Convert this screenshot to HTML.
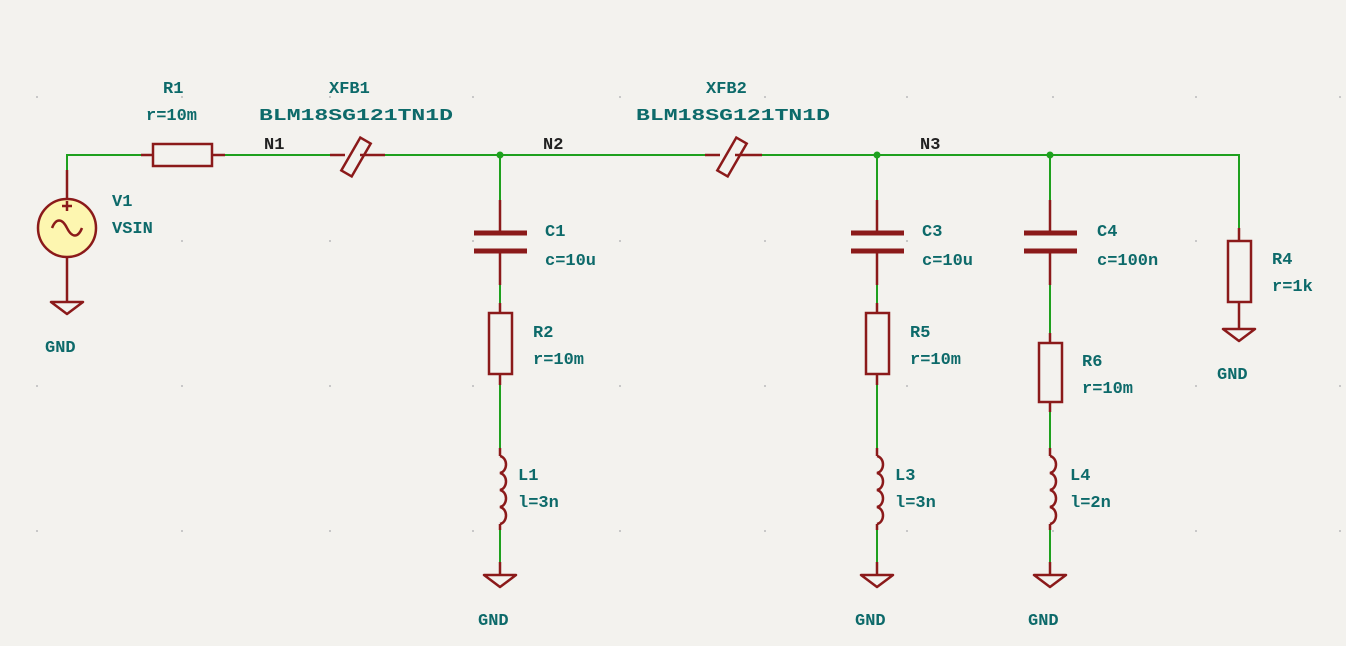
<!DOCTYPE html>
<html><head><meta charset="utf-8"><style>
html,body{margin:0;padding:0;background:#f3f2ee;}
svg{display:block}
text{font-family:"Liberation Mono","DejaVu Sans Mono",monospace;font-size:17px;font-weight:bold;fill:#0d6a6a;}
.n{fill:#222}
.w{stroke:#1ea01e;stroke-width:2;fill:none}
.r{stroke:#8b1a1a;stroke-width:2.5;fill:none}
.p{stroke:#8b1a1a;stroke-width:5;fill:none}
</style></head><body>
<svg width="1346" height="646" viewBox="0 0 1346 646" xmlns="http://www.w3.org/2000/svg">
<defs>
<g id="gnd"><polygon points="-16,0 16,0 0,12" class="r" stroke-linejoin="round"/></g>
<g id="ind"><path class="r" d="M0,0 C8,2 8,15 0,17 C8,19 8,32 0,34 C8,36 8,49 0,51 C8,53 8,66 0,68"/></g>
</defs>
<g fill="#bbb">
<circle cx="37" cy="97" r="1"/><circle cx="182" cy="97" r="1"/><circle cx="330" cy="97" r="1"/><circle cx="473" cy="97" r="1"/><circle cx="620" cy="97" r="1"/><circle cx="765" cy="97" r="1"/><circle cx="907" cy="97" r="1"/><circle cx="1053" cy="97" r="1"/><circle cx="1196" cy="97" r="1"/><circle cx="1340" cy="97" r="1"/>
<circle cx="182" cy="241" r="1"/><circle cx="330" cy="241" r="1"/><circle cx="473" cy="241" r="1"/><circle cx="620" cy="241" r="1"/><circle cx="765" cy="241" r="1"/><circle cx="907" cy="241" r="1"/><circle cx="1196" cy="241" r="1"/>
<circle cx="37" cy="386" r="1"/><circle cx="182" cy="386" r="1"/><circle cx="330" cy="386" r="1"/><circle cx="473" cy="386" r="1"/><circle cx="620" cy="386" r="1"/><circle cx="765" cy="386" r="1"/><circle cx="907" cy="386" r="1"/><circle cx="1196" cy="386" r="1"/><circle cx="1340" cy="386" r="1"/>
<circle cx="37" cy="531" r="1"/><circle cx="182" cy="531" r="1"/><circle cx="330" cy="531" r="1"/><circle cx="473" cy="531" r="1"/><circle cx="620" cy="531" r="1"/><circle cx="765" cy="531" r="1"/><circle cx="907" cy="531" r="1"/><circle cx="1053" cy="531" r="1"/><circle cx="1196" cy="531" r="1"/><circle cx="1340" cy="531" r="1"/>
</g>
<path class="w" d="M67,170 V155 H141 M225,155 H330 M385,155 H705 M762,155 H1239 V200"/>
<circle cx="500" cy="155" r="3.5" fill="#1ea01e"/><circle cx="877" cy="155" r="3.5" fill="#1ea01e"/><circle cx="1050" cy="155" r="3.5" fill="#1ea01e"/>
<!-- V1 -->
<path class="r" d="M67,170 V199 M67,257 V302"/>
<circle cx="67" cy="228" r="29" fill="#fdf6b0" stroke="#8b1a1a" stroke-width="2.5"/>
<path class="r" d="M62,206 H72 M67,201 V211" stroke-width="1.8"/>
<path class="r" d="M52,228 C56,218 62,218 67,228 C72,238 78,238 82,228" stroke-width="2.2"/>
<use href="#gnd" x="67" y="302"/>
<text x="45" y="352">GND</text>
<text x="112" y="206">V1</text><text x="112" y="233">VSIN</text>
<path class="r" d="M141,155 H153 M212,155 H225"/>
<rect x="153" y="144" width="59" height="22" class="r"/>
<text x="163" y="93">R1</text><text x="146" y="120">r=10m</text>
<text x="264" y="149" class="n">N1</text>
<path class="r" d="M330,155 H345 M360,155 H385"/>
<rect x="-6" y="-19" width="12" height="38" class="r" transform="translate(356,157) rotate(30)"/>
<text x="329" y="93">XFB1</text><text x="259" y="120" textLength="194" lengthAdjust="spacingAndGlyphs">BLM18SG121TN1D</text>
<text x="543" y="149" class="n">N2</text>
<path class="r" d="M705,155 H720 M735,155 H762"/>
<rect x="-6" y="-19" width="12" height="38" class="r" transform="translate(732,157) rotate(30)"/>
<text x="706" y="93">XFB2</text><text x="636" y="120" textLength="194" lengthAdjust="spacingAndGlyphs">BLM18SG121TN1D</text>
<text x="920" y="149" class="n">N3</text>
<g id="col1">
<path class="w" d="M500,155 V200 M500,285 V303 M500,385 V448 M500,530 V562"/>
<path class="r" d="M500,200 V233 M500,251 V285 M500,303 V313 M500,374 V385 M500,562 V575"/>
<path class="p" d="M474,233 H527 M474,251 H527"/>
<rect x="489" y="313" width="23" height="61" class="r"/>
<path class="r" d="M500,448 V456 M500,524 V530"/>
<use href="#ind" x="500" y="456"/>
<use href="#gnd" x="500" y="575"/>
</g>
<text x="478" y="625">GND</text>
<text x="545" y="236">C1</text><text x="545" y="265">c=10u</text>
<text x="533" y="337">R2</text><text x="533" y="364">r=10m</text>
<text x="518" y="480">L1</text><text x="518" y="507">l=3n</text>
<use href="#col1" x="377"/>
<text x="855" y="625">GND</text>
<text x="922" y="236">C3</text><text x="922" y="265">c=10u</text>
<text x="910" y="337">R5</text><text x="910" y="364">r=10m</text>
<text x="895" y="480">L3</text><text x="895" y="507">l=3n</text>
<path class="w" d="M1050,155 V200 M1050,285 V333 M1050,412 V448 M1050,530 V562"/>
<path class="r" d="M1050,200 V233 M1050,251 V285 M1050,333 V343 M1050,402 V412 M1050,562 V575"/>
<path class="p" d="M1024,233 H1077 M1024,251 H1077"/>
<rect x="1039" y="343" width="23" height="59" class="r"/>
<path class="r" d="M1050,448 V456 M1050,524 V530"/>
<use href="#ind" x="1050" y="456"/>
<use href="#gnd" x="1050" y="575"/>
<text x="1028" y="625">GND</text>
<text x="1097" y="236">C4</text><text x="1097" y="265">c=100n</text>
<text x="1082" y="366">R6</text><text x="1082" y="393">r=10m</text>
<text x="1070" y="480">L4</text><text x="1070" y="507">l=2n</text>
<path class="w" d="M1239,155 V228"/>
<path class="r" d="M1239,228 V241 M1239,302 V329"/>
<rect x="1228" y="241" width="23" height="61" class="r"/>
<use href="#gnd" x="1239" y="329"/>
<text x="1217" y="379">GND</text>
<text x="1272" y="264">R4</text><text x="1272" y="291">r=1k</text>
</svg>
</body></html>
